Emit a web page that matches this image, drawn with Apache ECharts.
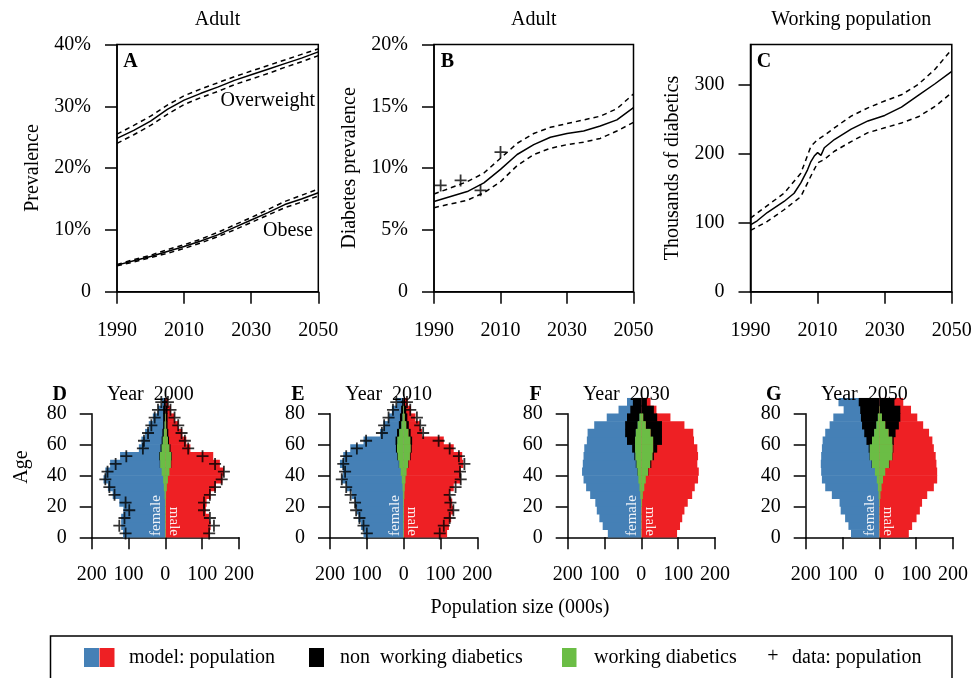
<!DOCTYPE html>
<html><head><meta charset="utf-8">
<script src="https://cdn.jsdelivr.net/npm/echarts@6/dist/echarts.min.js"></script>
<style>html,body{margin:0;padding:0;background:#fff}#c{width:975px;height:678px}</style>
</head><body><div id="c"></div>
<script>
// ================= DATA =================
// Panel A: adult overweight / obese prevalence (%)
const yearsA = [1990,1995,2000,2005,2010,2015,2020,2025,2030,2035,2040,2045,2050];
const overweight   = [24.8,26.1,27.6,29.5,31.0,32.1,33.1,34.2,35.1,36.0,36.9,37.8,38.8];
const overweightHi = [25.5,26.9,28.4,30.2,31.7,32.8,33.8,34.8,35.7,36.6,37.5,38.4,39.3];
const overweightLo = [24.0,25.4,26.9,28.7,30.3,31.4,32.4,33.5,34.4,35.3,36.3,37.2,38.2];
const obese   = [4.3,5.0,5.7,6.5,7.3,8.2,9.2,10.4,11.6,12.8,14.1,15.0,16.0];
const obeseHi = [4.4,5.2,5.9,6.8,7.6,8.5,9.6,10.8,12.0,13.3,14.6,15.6,16.6];
const obeseLo = [4.2,4.8,5.5,6.2,7.0,7.9,8.9,10.0,11.2,12.4,13.6,14.5,15.5];

// Panel B: adult diabetes prevalence (%)
const yearsB = [1990,1995,2000,2005,2010,2015,2020,2025,2030,2035,2040,2045,2050];
const diabetes   = [7.3,7.7,8.1,8.8,9.9,11.1,11.9,12.5,12.8,13.0,13.4,13.9,14.9];
const diabetesHi = [7.9,8.4,8.9,9.6,10.8,12.0,12.8,13.3,13.6,13.9,14.2,14.8,16.0];
const diabetesLo = [6.8,7.1,7.4,8.0,8.9,10.2,11.1,11.6,11.9,12.1,12.4,13.0,13.7];
const surveyYears = [1992,1998,2004,2010];
const surveyPrev  = [8.6,9.0,8.2,11.3];

// Panel C: working-population diabetics (thousands)
const yearsC = [1990,1992,1995,2000,2003,2005,2007,2008,2009,2010,2011,2012,2015,2020,2025,2030,2035,2040,2045,2050];
const diabeticsK = [97,103,115,131,143,158,177,189,197,202,198,209,221,236,248,256,268,285,302,320];
const yearsCBand = [1990,1995,2000,2005,2008,2010,2012,2015,2020,2025,2030,2035,2040,2045,2050];
const diabeticsKHi = [107,125,143,172,211,221,227,238,255,267,277,286,301,323,352];
const diabeticsKLo = [89,102,119,138,168,187,192,204,218,231,238,245,254,269,289];

// Pyramids: 5-year age bins starting at these ages (thousands)
const ageStarts = [0,5,10,15,20,25,30,35,40,45,50,55,60,65,70,75,80,85];

// D: year 2000
const femalePopD  = [115,120,120,114,125,143,156,168,163,150,123,72,65,55,45,34,20,9];
const malePopD    = [121,123,119,110,112,123,137,155,159,148,130,68,57,46,35,25,15,7];
const femaleDataD = [108,125,111,98,108,138,152,163,157,135,106,61,58,47,38,29,20,11];
const maleDataD   = [119,132,121,105,105,121,135,153,159,135,101,62,53,44,35,25,14,7];
const femaleWorkD = [1,1,1,1,1,2,4,6,10,14,15,10,7,4,2,1,0,0];
const maleWorkD   = [1,1,1,1,1,2,4,7,11,15,16,11,7,4,2,1,0,0];
const femaleNonWorkD = [0,0,0,0,0,0,0,0,0,1,2,3,3,4,4,5,6,4];
const maleNonWorkD   = [0,0,0,0,0,0,0,0,0,1,2,3,3,4,4,5,6,3];

// E: year 2010
const femalePopE  = [109,116,123,127,132,141,155,168,165,173,164,145,109,64,55,41,32,18];
const malePopE    = [118,123,129,135,132,125,136,155,155,162,159,136,109,50,44,32,20,11];
const femaleDataE = [100,109,120,129,132,144,156,168,159,164,156,127,102,59,53,41,29,20];
const maleDataE   = [98,109,125,135,127,125,141,155,153,165,150,125,95,53,45,36,18,9];
const femaleWorkE = [1,1,1,1,1,2,3,5,8,12,16,18,17,12,6,3,1,0];
const maleWorkE   = [1,1,1,1,1,2,3,5,8,12,17,19,18,13,7,3,1,0];
const femaleNonWorkE = [0,0,0,0,0,0,0,0,0,1,2,3,5,6,7,7,6,4];
const maleNonWorkE   = [0,0,0,0,0,0,0,0,0,1,2,3,5,6,7,7,6,4];

// F: year 2030
const femalePopF  = [91,105,114,121,125,139,150,157,161,159,157,155,148,146,128,94,62,39];
const malePopF    = [97,105,111,117,126,138,145,154,156,152,154,152,143,141,117,79,41,25];
const femaleWorkF = [0.5,0.5,0.5,0.5,1,3,5,8,10,13,16,17,17,15,10,5,0,0];
const maleWorkF   = [0.5,0.5,0.5,0.5,2,4,8,12,18,24,30,32,32,25,12,5,0,0];
const femaleNonWorkF = [0,0,0,0,0,0,0,0,1,2,3,8,22,29,34,34,30,23];
const maleNonWorkF   = [0,0,0,0,0,0,0,0,1,3,4,11,24,31,44,38,34,15];

// G: year 2050
const femalePopG  = [77,84,93,105,108,129,147,156,158,159,158,156,154,147,135,125,97,111];
const malePopG    = [80,89,101,110,116,130,148,157,157,155,153,148,144,135,119,103,86,65];
const femaleWorkG = [0.5,0.5,0.5,0.5,1,2,4,7,12,20,26,26,20,14,8,4,0,0];
const maleWorkG   = [0.5,0.5,0.5,0.5,1,3,6,10,16,26,35,36,35,25,16,7,1,0];
const femaleNonWorkG = [0,0,0,0,0,0,0,0,0,1,1,3,15,27,39,46,52,56];
const maleNonWorkG   = [0,0,0,0,0,0,0,0,0,1,1,2,4,19,37,50,56,41];

const pyramidYears = [2000, 2010, 2030, 2050];
const pyramidLetters = ['D','E','F','G'];
const topTitles = ['Adult','Adult','Working population'];
const topLetters = ['A','B','C'];
const topYNames = ['Prevalence','Diabetes prevalence','Thousands of diabetics'];

// ================= CHART =================
const FONT = 'Liberation Serif';
const BLUE = '#4580b6', RED = '#ee2024', GREEN = '#6bbd45', BLACK = '#000';
const BIN = 5;
const chart = echarts.init(document.getElementById('c'), null, {renderer:'canvas', width:975, height:678});

const topGrids = [
  {left:117, top:44.5, width:201.3, height:247.2},
  {left:434, top:44.5, width:199.5, height:247.2},
  {left:750.5, top:44.5, width:201.3, height:247.2}
];
const pyrLefts = [91.7, 330, 567.7, 805.7];
const pyrGrid = {top:413.7, width:147.3, height:123.6};

const grids = [];
topGrids.forEach(g => grids.push(Object.assign({show:true, borderColor:'#000', borderWidth:1.5, backgroundColor:'transparent', containLabel:false, outerBoundsMode:'none'}, g)));
pyrLefts.forEach(l => grids.push({left:l, top:pyrGrid.top, width:pyrGrid.width, height:pyrGrid.height, show:false, containLabel:false, outerBoundsMode:'none'}));

const axLine = {show:true, onZero:false, lineStyle:{color:'#000', width:1.5}};
const axTick = {show:true, length:12, lineStyle:{color:'#000', width:1.5}};
const lblBase = {color:'#000', fontFamily:FONT, fontSize:20};

const xAxes = [], yAxes = [];
const yearTicks = [1990,2010,2030,2050];
for (let i = 0; i < 3; i++) {
  xAxes.push({type:'value', gridIndex:i, min:1990, max:2050, interval:20,
    axisLine:axLine, axisTick:Object.assign({customValues:yearTicks}, axTick),
    axisLabel:Object.assign({margin:29, customValues:yearTicks, formatter:v => String(v)}, lblBase), splitLine:{show:false}});
}
yAxes.push({type:'value', gridIndex:0, min:0, max:40, interval:10, axisLine:axLine, axisTick:axTick,
  axisLabel:Object.assign({margin:26, formatter:v => v===0?'0':v+'%'}, lblBase), splitLine:{show:false}});
yAxes.push({type:'value', gridIndex:1, min:0, max:20, interval:5, axisLine:axLine, axisTick:axTick,
  axisLabel:Object.assign({margin:26, formatter:v => v===0?'0':v+'%'}, lblBase), splitLine:{show:false}});
const cTicks = [0,100,200,300];
yAxes.push({type:'value', gridIndex:2, min:0, max:359, interval:100, axisLine:axLine,
  axisTick:Object.assign({customValues:cTicks}, axTick),
  axisLabel:Object.assign({margin:26, customValues:cTicks, formatter:v => String(v)}, lblBase), splitLine:{show:false}});
for (let i = 0; i < 4; i++) {
  xAxes.push({type:'value', gridIndex:3+i, min:-200, max:200, interval:100, axisLine:axLine, axisTick:axTick,
    axisLabel:Object.assign({margin:27, formatter:v => String(Math.abs(v))}, lblBase), splitLine:{show:false}});
  yAxes.push({type:'value', gridIndex:3+i, min:0, max:80, interval:20, axisLine:axLine, axisTick:axTick,
    axisLabel:Object.assign({margin:25}, lblBase), splitLine:{show:false}});
}

const series = [];
function pairs(xs, ys){ return xs.map((x,i)=>[x, ys[i]]); }
function line(idx, xs, ys, dashed){
  series.push({type:'line', xAxisIndex:idx, yAxisIndex:idx, data:pairs(xs,ys), showSymbol:false, silent:true,
    lineStyle:{color:'#000', width:1.5, type: dashed ? [5,4] : 'solid'}, z:3});
}
const plusPath = 'path://M5.1,0H6.9V5.1H12V6.9H6.9V12H5.1V6.9H0V5.1H5.1Z';

line(0, yearsA, overweight, false); line(0, yearsA, overweightHi, true); line(0, yearsA, overweightLo, true);
line(0, yearsA, obese, false); line(0, yearsA, obeseHi, true); line(0, yearsA, obeseLo, true);
line(1, yearsB, diabetes, false); line(1, yearsB, diabetesHi, true); line(1, yearsB, diabetesLo, true);
series.push({type:'scatter', xAxisIndex:1, yAxisIndex:1, data:pairs(surveyYears, surveyPrev), symbol:plusPath, symbolSize:12,
  itemStyle:{color:'#000'}, silent:true, z:4});
line(2, yearsC, diabeticsK, false); line(2, yearsCBand, diabeticsKHi, true); line(2, yearsCBand, diabeticsKLo, true);

function rectSeries(axisIdx, data, color, z){
  series.push({type:'custom', xAxisIndex:axisIdx, yAxisIndex:axisIdx, clip:false, silent:true, z:z,
    data:data, encode:{x:[1,2], y:0},
    renderItem:function(params, api){
      const a0 = api.value(0), x0 = api.value(1), x1 = api.value(2);
      const p0 = api.coord([x0, a0]), p1 = api.coord([x1, a0 + BIN]);
      const w = Math.abs(p1[0]-p0[0]);
      if (w <= 0) return null;
      return {type:'rect', shape:{x:Math.min(p0[0],p1[0]), y:p1[1]-0.3, width:w, height:(p0[1]-p1[1])+0.6}, style:{fill:color}};
    }});
}
const pyr = [
  {fp:femalePopD, mp:malePopD, fw:femaleWorkD, mw:maleWorkD, fn:femaleNonWorkD, mn:maleNonWorkD, fd:femaleDataD, md:maleDataD},
  {fp:femalePopE, mp:malePopE, fw:femaleWorkE, mw:maleWorkE, fn:femaleNonWorkE, mn:maleNonWorkE, fd:femaleDataE, md:maleDataE},
  {fp:femalePopF, mp:malePopF, fw:femaleWorkF, mw:maleWorkF, fn:femaleNonWorkF, mn:maleNonWorkF},
  {fp:femalePopG, mp:malePopG, fw:femaleWorkG, mw:maleWorkG, fn:femaleNonWorkG, mn:maleNonWorkG}
];
pyr.forEach((p, k) => {
  const ax = 3 + k;
  rectSeries(ax, ageStarts.map((a,i)=>[a, 0, -p.fp[i]]), BLUE, 2);
  rectSeries(ax, ageStarts.map((a,i)=>[a, 0, p.mp[i]]), RED, 2);
  rectSeries(ax, ageStarts.map((a,i)=>[a, -p.fw[i], -(p.fw[i]+p.fn[i])]), BLACK, 3);
  rectSeries(ax, ageStarts.map((a,i)=>[a, p.mw[i], p.mw[i]+p.mn[i]]), BLACK, 3);
  rectSeries(ax, ageStarts.map((a,i)=>[a, 0, -p.fw[i]]), GREEN, 4);
  rectSeries(ax, ageStarts.map((a,i)=>[a, 0, p.mw[i]]), GREEN, 4);
  if (p.fd) {
    const pts = ageStarts.map((a,i)=>[-p.fd[i], a + BIN/2]).concat(ageStarts.map((a,i)=>[p.md[i], a + BIN/2]));
    series.push({type:'scatter', xAxisIndex:ax, yAxisIndex:ax, data:pts, symbol:plusPath, symbolSize:12, clip:false,
      itemStyle:{color:'#000'}, silent:true, z:6});
  }
});

// ---- text & legend graphics ----
const G = [];
function txt(x, y, s, opt){
  G.push(Object.assign({type:'text', x:x, y:y, z:20, silent:true,
    style:Object.assign({text:s, fill:'#000', font:'20px "'+FONT+'"', align:'center', verticalAlign:'middle'}, (opt&&opt.style)||{})},
    opt ? {rotation: opt.rotation||0} : {}));
}
const topCenters = topGrids.map(g => g.left + g.width/2);
topTitles.forEach((t,i)=> txt(topCenters[i], 20, t));
topLetters.forEach((t,i)=> txt(topGrids[i].left + 13.5, 62, t, {style:{font:'bold 20px "'+FONT+'"'}}));
const yNameX = [33, 350, 673];
topYNames.forEach((t,i)=> txt(yNameX[i], 168, t, {rotation:Math.PI/2}));
txt(315, 101, 'Overweight', {style:{align:'right'}});
txt(313, 231, 'Obese', {style:{align:'right'}});

pyrLefts.forEach((l,i)=>{
  const c = l + pyrGrid.width/2;
  txt(c - 15, 395, 'Year  ' + pyramidYears[i]);
  txt(l - 32, 395, pyramidLetters[i], {style:{font:'bold 20px "'+FONT+'"'}});
  txt(c - 9, 536, 'female', {rotation:Math.PI/2, style:{align:'left', fill:'#eef2f8', font:'15px "'+FONT+'"'}});
  txt(c + 8.5, 536, 'male', {rotation:-Math.PI/2, style:{align:'right', fill:'#fbeaea', font:'15px "'+FONT+'"'}});
});
txt(22, 467, 'Age', {rotation:Math.PI/2});
txt(520, 608, 'Population size (000s)');

// legend
G.push({type:'rect', z:20, silent:true, shape:{x:50.5, y:636, width:901.5, height:60}, style:{fill:'none', stroke:'#000', lineWidth:1.5}});
G.push({type:'rect', z:20, silent:true, shape:{x:84, y:648, width:15, height:19}, style:{fill:BLUE}});
G.push({type:'rect', z:20, silent:true, shape:{x:99.5, y:648, width:15, height:19}, style:{fill:RED}});
G.push({type:'rect', z:20, silent:true, shape:{x:309, y:648, width:15, height:19}, style:{fill:BLACK}});
G.push({type:'rect', z:20, silent:true, shape:{x:562, y:648, width:14.5, height:19}, style:{fill:GREEN}});
txt(129, 658, 'model: population', {style:{align:'left'}});
txt(340, 658, 'non  working diabetics', {style:{align:'left'}});
txt(594, 658, 'working diabetics', {style:{align:'left'}});
txt(773, 657, '+', {style:{align:'center'}});
txt(792, 658, 'data: population', {style:{align:'left'}});

chart.setOption({
  animation:false,
  backgroundColor:'#fff',
  textStyle:{fontFamily:FONT},
  grid:grids, xAxis:xAxes, yAxis:yAxes, series:series, graphic:G
});
</script></body></html>
